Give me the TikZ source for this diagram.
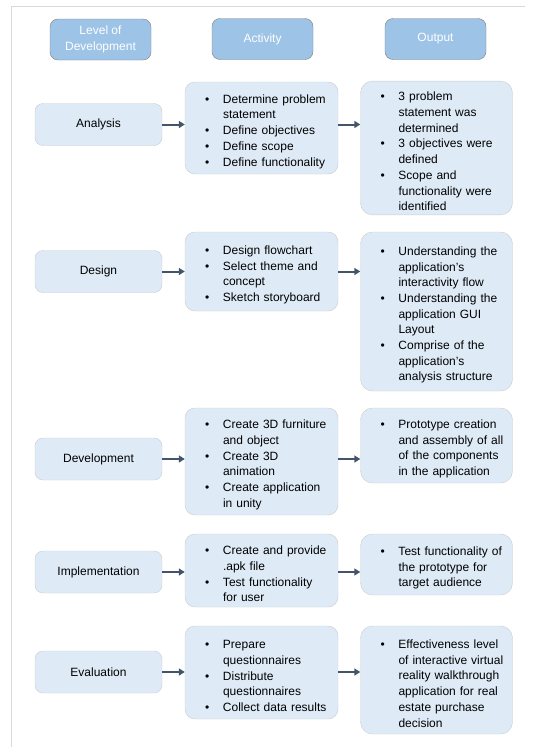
\documentclass[tikz,border=0pt]{standalone}
\usepackage{fontspec}
\setmainfont{Liberation Sans}
\usetikzlibrary{arrows.meta}

\definecolor{headblue}{HTML}{9DC3E6}
\definecolor{headgray}{HTML}{7F7F7F}
\definecolor{boxblue}{HTML}{DEEBF7}
\definecolor{boxgray}{HTML}{C8CCD0}
\definecolor{arrowc}{HTML}{44546A}
\definecolor{framegray}{HTML}{D9D9D9}

\setlength{\parskip}{0pt}
\newcommand{\bitem}{\par\hangindent=30pt\hangafter=1\noindent\makebox[30pt][l]{\hspace{12pt}\textbullet}}

\tikzset{
	headbox/.style={draw=headgray,fill=headblue,rounded corners=8pt,text=white,align=center,minimum width=101pt,minimum height=41pt,inner sep=2pt},
	levbox/.style={draw=boxgray,fill=boxblue,rounded corners=8pt,minimum width=127pt,minimum height=42pt},
	actbox/.style={draw=boxgray,fill=boxblue,rounded corners=10pt,text width=137pt,inner xsep=8pt,inner ysep=4pt,align=left},
	outbox/.style={draw=boxgray,fill=boxblue,rounded corners=12pt,text width=136pt,inner xsep=8pt,inner ysep=4pt,align=left},
	arr/.style={-{Triangle[length=6pt,width=7pt]},draw=arrowc,line width=2pt}
}

\begin{document}
\begin{tikzpicture}[x=1pt,y=-1pt,font=\fontsize{12}{15.7}\selectfont]
			\useasboundingbox (0,0) rectangle (535,747);
			\draw[framegray,line width=1pt] (11,747) -- (11,6) -- (525,6);
			
			% column heads
			\node[headbox] (hlev) at (100.5, 39.5) {Level of\\Development};
			\node[headbox] (hact) at (262.5, 39) {Activity};
			\node[headbox] (hout) at (435.5, 39) {Output};
			
			% level of development
			\node[levbox] (lev1) at (98.5, 124.5) {Analysis};
			\node[levbox] (lev2) at (98.5, 271.5) {Design};
			\node[levbox] (lev3) at (98.5, 459)   {Development};
			\node[levbox] (lev4) at (98.5, 572)   {Implementation};
			\node[levbox] (lev5) at (98.5, 672)   {Evaluation};
			
			% activity
			\node[actbox,minimum height=92pt] (act1) at (261.5, 128) {%
				\bitem Determine problem\newline statement
				\bitem Define objectives
				\bitem Define scope
				\bitem Define functionality\par};
			\node[actbox,minimum height=79pt] (act2) at (261.5, 271.5) {%
				\bitem Design flowchart
				\bitem Select theme and\newline concept
				\bitem Sketch storyboard\par};
			\node[actbox,minimum height=107pt] (act3) at (261.5, 461.5) {%
				\bitem Create 3D furniture\newline and object
				\bitem Create 3D\newline animation
				\bitem Create application\newline in unity\par};
			\node[actbox,minimum height=73pt] (act4) at (261.5, 570.5) {%
				\bitem Create and provide\newline .apk file
				\bitem Test functionality\newline for user\par};
			\node[actbox,minimum height=93pt] (act5) at (261.5, 672.5) {%
				\bitem Prepare\newline questionnaires
				\bitem Distribute\newline questionnaires
				\bitem Collect data results\par};
			
			% output
			\node[outbox,minimum height=132pt] (out1) at (436.5, 148) {%
				\bitem 3 problem\newline statement was\newline determined
				\bitem 3 objectives were\newline defined
				\bitem Scope and\newline functionality were\newline identified\par};
			\node[outbox,minimum height=159pt] (out2) at (436.5, 311.5) {%
				\bitem Understanding the\newline application's\newline interactivity flow
				\bitem Understanding the\newline application GUI\newline Layout
				\bitem Comprise of the\newline application's\newline analysis structure\par};
			\node[outbox,minimum height=75pt] (out3) at (436.5, 445.5) {%
				\bitem Prototype creation\newline and assembly of all\newline of the components\newline in the application\par};
			\node[outbox,minimum height=61pt] (out4) at (436.5, 564.5) {%
				\bitem Test functionality of\newline the prototype for\newline target audience\par};
			\node[outbox,minimum height=108pt] (out5) at (436.5, 680) {%
				\bitem Effectiveness level\newline of interactive virtual\newline reality walkthrough\newline application for real\newline estate purchase\newline decision\par};
			
			\foreach \i in {1,...,5} {
				\draw [arr] (lev\i.east) -- (lev\i -| act\i.west);
				\draw [arr] (act\i.east |- lev\i) -- (out\i.west |- lev\i);
			}
\end{tikzpicture}
\end{document}
